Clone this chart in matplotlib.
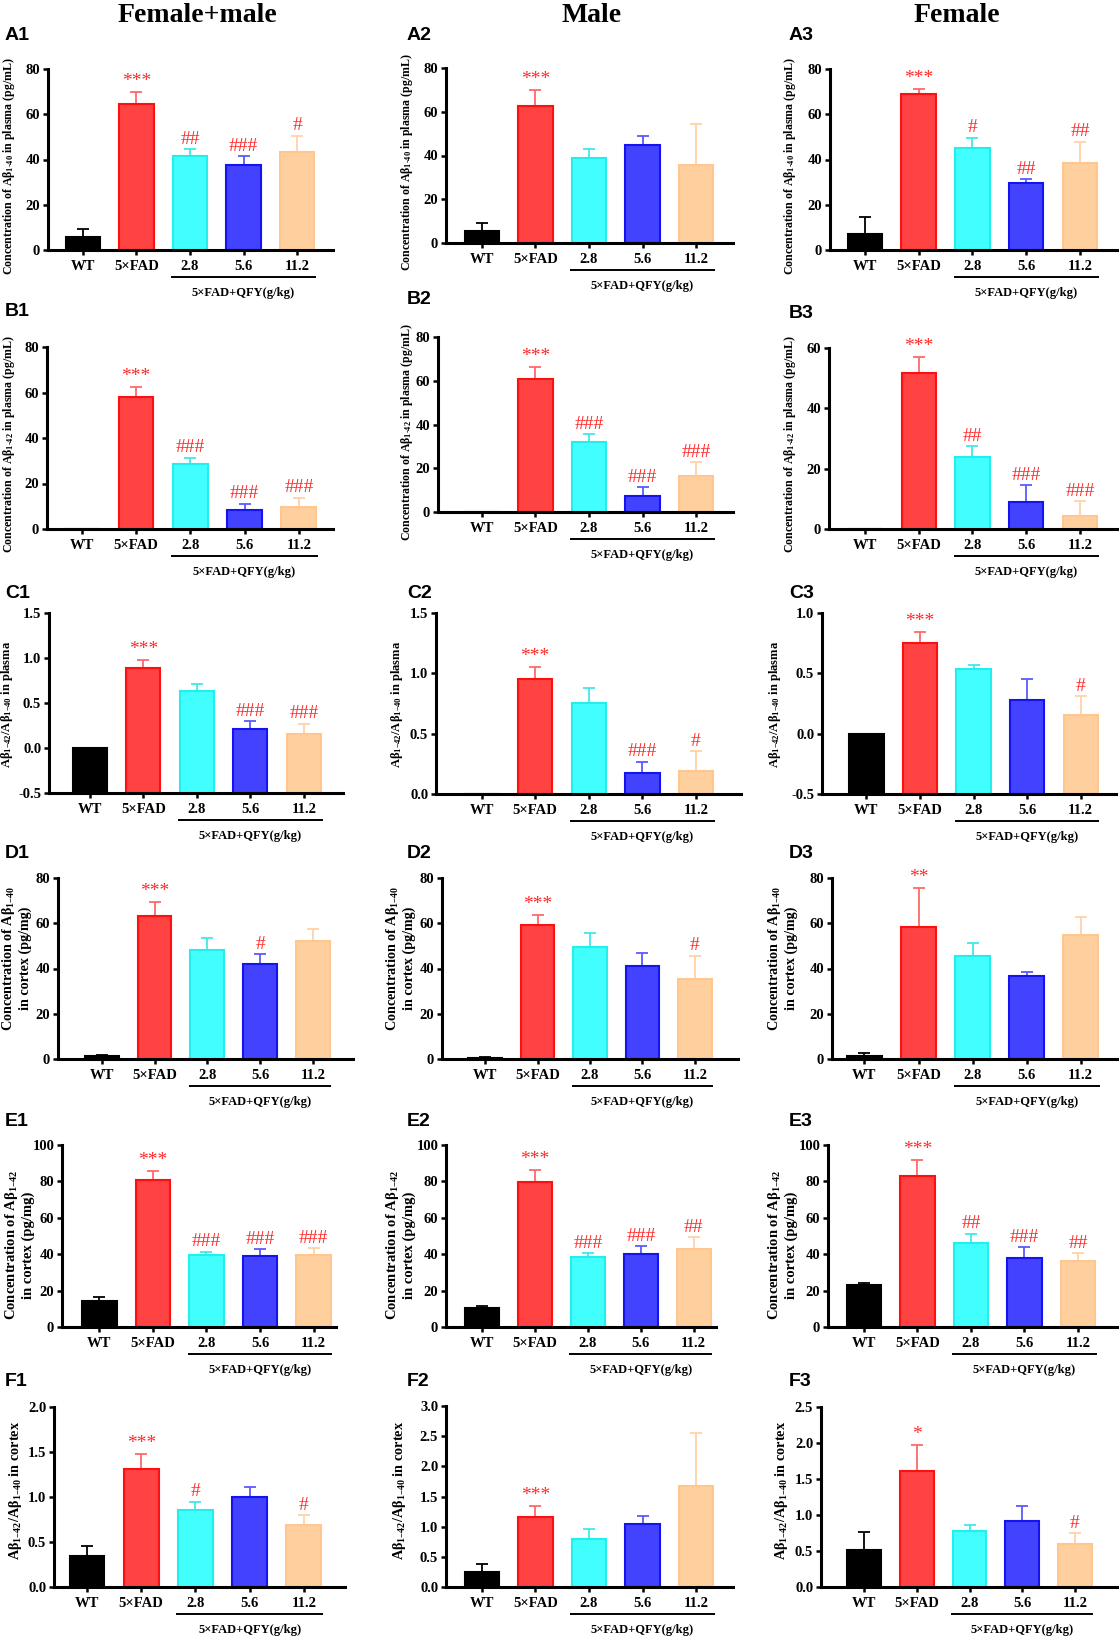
import matplotlib
matplotlib.use("Agg")
import matplotlib.pyplot as plt
from matplotlib.transforms import offset_copy, blended_transform_factory

plt.rcParams['font.family'] = ['Liberation Serif', 'DejaVu Serif']
plt.rcParams['font.weight'] = 'bold'
plt.rcParams['mathtext.default'] = 'regular'
plt.rcParams['axes.linewidth'] = 2.2

W, H = 1119, 1637

groups = ['WT', '5×FAD', '2.8', '5.6', '11.2']
group_label = '5×FAD+QFY(g/kg)'
col_titles = ['Female+male', 'Male', 'Female']

# ---- data: mean, SEM (upper), significance ----
A1_mean = [5.7, 64.5, 41.4, 37.7, 43.4]
A1_sem = [3.6, 5.3, 3.1, 3.8, 7.1]
A1_sig = ['', '***', '##', '###', '#']
A2_mean = [5.3, 62.7, 39.0, 44.6, 35.7]
A2_sem = [3.8, 7.4, 3.8, 4.1, 18.5]
A2_sig = ['', '***', '', '', '']
A3_mean = [7.1, 69.1, 45.2, 29.5, 38.6]
A3_sem = [7.6, 1.9, 4.4, 1.7, 9.3]
A3_sig = ['', '***', '#', '##', '##']

B1_mean = [0.0, 58.2, 28.5, 8.2, 9.7]
B1_sem = [0.0, 4.3, 2.8, 3.0, 4.0]
B1_sig = ['', '***', '###', '###', '###']
B2_mean = [0.0, 61.0, 32.2, 7.3, 16.3]
B2_sem = [0.0, 5.1, 3.5, 4.1, 6.4]
B2_sig = ['', '***', '###', '###', '###']
B3_mean = [0.0, 51.7, 23.9, 8.95, 4.3]
B3_sem = [0.0, 5.2, 3.6, 5.5, 5.0]
B3_sig = ['', '***', '##', '###', '###']

C1_mean = [0.0, 0.89, 0.63, 0.21, 0.16]
C1_sem = [0.0, 0.09, 0.085, 0.09, 0.11]
C1_sig = ['', '***', '', '###', '###']
C2_mean = [0.0, 0.95, 0.751, 0.171, 0.193]
C2_sem = [0.0, 0.105, 0.13, 0.097, 0.161]
C2_sig = ['', '***', '', '###', '#']
C3_mean = [0.0, 0.755, 0.533, 0.283, 0.156]
C3_sem = [0.0, 0.089, 0.036, 0.17, 0.155]
C3_sig = ['', '***', '', '', '#']

D1_mean = [1.2, 63.3, 48.0, 42.1, 52.3]
D1_sem = [0.4, 6.1, 5.3, 4.2, 5.1]
D1_sig = ['', '***', '', '#', '']
D2_mean = [0.6, 59.4, 49.4, 41.0, 35.3]
D2_sem = [0.4, 4.1, 6.5, 5.9, 10.3]
D2_sig = ['', '***', '', '', '#']
D3_mean = [1.3, 58.4, 45.6, 36.6, 55.0]
D3_sem = [1.2, 17.2, 5.6, 1.9, 7.8]
D3_sig = ['', '**', '', '', '']

E1_mean = [14.3, 80.7, 39.4, 39.0, 39.4]
E1_sem = [2.0, 5.2, 1.9, 3.6, 3.9]
E1_sig = ['', '***', '###', '###', '###']
E2_mean = [10.6, 79.4, 38.3, 40.2, 42.9]
E2_sem = [1.1, 6.8, 2.4, 4.2, 6.6]
E2_sig = ['', '***', '###', '###', '##']
E3_mean = [22.9, 83.1, 45.9, 38.0, 36.0]
E3_sem = [1.3, 8.6, 5.3, 6.0, 4.4]
E3_sig = ['', '***', '##', '###', '##']

F1_mean = [0.34, 1.31, 0.856, 0.996, 0.694]
F1_sem = [0.12, 0.17, 0.094, 0.111, 0.106]
F1_sig = ['', '***', '#', '', '#']
F2_mean = [0.25, 1.16, 0.80, 1.044, 1.68]
F2_sem = [0.126, 0.18, 0.156, 0.133, 0.88]
F2_sig = ['', '***', '', '', '']
F3_mean = [0.515, 1.61, 0.777, 0.919, 0.602]
F3_sem = [0.248, 0.36, 0.078, 0.207, 0.147]
F3_sig = ['', '*', '', '', '#']

yl_A = 'Concentration of A$\\beta_{1\u201040}$ in plasma (pg/mL)'
yl_B = 'Concentration of A$\\beta_{1\u201042}$ in plasma (pg/mL)'
yl_C = 'A$\\beta_{1\u201342}$/A$\\beta_{1\u201340}$ in plasma'
yl_D = 'Concentration of A$\\beta_{1\u201340}$\nin cortex (pg/mg)'
yl_E = 'Concentration of A$\\beta_{1\u201342}$\nin cortex (pg/mg)'
yl_F = 'A$\\beta_{1\u201342}$/A$\\beta_{1\u201340}$ in cortex'

ticks_80 = [0, 20, 40, 60, 80]
ticks_60 = [0, 20, 40, 60]
ticks_100 = [0, 20, 40, 60, 80, 100]
ticks_C1 = [-0.5, 0.0, 0.5, 1.0, 1.5]
ticks_C2 = [0.0, 0.5, 1.0, 1.5]
ticks_C3 = [-0.5, 0.0, 0.5, 1.0]
ticks_F1 = [0.0, 0.5, 1.0, 1.5, 2.0]
ticks_F2 = [0.0, 0.5, 1.0, 1.5, 2.0, 2.5, 3.0]
ticks_F3 = [0.0, 0.5, 1.0, 1.5, 2.0, 2.5]

# ---- style ----
fills = ['#000000', '#FF4242', '#42FFFF', '#4242FF', '#FFD09E']
edges = ['#000000', '#FF1010', '#22EEEE', '#1414F0', '#FFC690']
errc = ['#000000', '#FF6A6A', '#40E8E8', '#5A5AFF', '#FFD2A6']
sig_color = '#FF2A2A'

# panel: name, mean, sem, sig, ylabel, ticks, fmt, rect(l,r,t,b px), xlim, label pos, ylabel pos, ylabel size
panels = [
    ('A1', A1_mean, A1_sem, A1_sig, yl_A, ticks_80, '%d', (48, 333, 69, 250), (-0.65, 4.67), (5, 36), (9, 166), 8.6),
    ('A2', A2_mean, A2_sem, A2_sig, yl_A, ticks_80, '%d', (446, 733, 68, 243), (-0.67, 4.69), (407, 35), (407, 162), 8.6),
    ('A3', A3_mean, A3_sem, A3_sig, yl_A, ticks_80, '%d', (830, 1117, 69, 250), (-0.65, 4.69), (789, 35), (790, 166), 8.6),
    ('B1', B1_mean, B1_sem, B1_sig, yl_B, ticks_80, '%d', (47, 333, 347, 529), (-0.64, 4.63), (5, 312), (9, 444), 8.6),
    ('B2', B2_mean, B2_sem, B2_sig, yl_B, ticks_80, '%d', (438, 733, 337, 512), (-0.82, 4.69), (407, 300), (407, 432), 8.6),
    ('B3', B3_mean, B3_sem, B3_sig, yl_B, ticks_60, '%d', (829, 1117, 348, 529), (-0.67, 4.69), (789, 313), (790, 444), 8.6),
    ('C1', C1_mean, C1_sem, C1_sig, yl_C, ticks_C1, '%.1f', (49, 343, 613, 793), (-0.76, 4.73), (5, 593), (7, 704), 9.0),
    ('C2', C2_mean, C2_sem, C2_sig, yl_C, ticks_C2, '%.1f', (436, 741, 613, 794), (-0.85, 4.84), (407, 593), (397, 704), 9.0),
    ('C3', C3_mean, C3_sem, C3_sig, yl_C, ticks_C3, '%.1f', (822, 1116, 613, 794), (-0.83, 4.66), (789, 593), (775, 704), 9.0),
    ('D1', D1_mean, D1_sem, D1_sig, yl_D, ticks_80, '%d', (58, 353, 878, 1059), (-0.83, 4.76), (5, 853), (16, 958), 10.2),
    ('D2', D2_mean, D2_sem, D2_sig, yl_D, ticks_80, '%d', (442, 738, 878, 1059), (-0.82, 4.82), (407, 853), (400, 958), 10.2),
    ('D3', D3_mean, D3_sem, D3_sig, yl_D, ticks_80, '%d', (832, 1117, 878, 1059), (-0.6, 4.67), (789, 853), (782, 958), 10.2),
    ('E1', E1_mean, E1_sem, E1_sig, yl_E, ticks_100, '%d', (62, 336, 1145, 1327), (-0.7, 4.42), (5, 1121), (19, 1245), 10.5),
    ('E2', E2_mean, E2_sem, E2_sig, yl_E, ticks_100, '%d', (446, 716, 1145, 1327), (-0.68, 4.42), (407, 1121), (400, 1245), 10.5),
    ('E3', E3_mean, E3_sem, E3_sig, yl_E, ticks_100, '%d', (828, 1117, 1145, 1327), (-0.67, 4.73), (789, 1121), (782, 1245), 10.5),
    ('F1', F1_mean, F1_sem, F1_sig, yl_F, ticks_F1, '%.1f', (54, 345, 1407, 1587), (-0.61, 4.76), (5, 1382), (16, 1490), 10.3),
    ('F2', F2_mean, F2_sem, F2_sig, yl_F, ticks_F2, '%.1f', (446, 733, 1406, 1587), (-0.67, 4.69), (407, 1382), (400, 1490), 10.3),
    ('F3', F3_mean, F3_sem, F3_sig, yl_F, ticks_F3, '%.1f', (821, 1117, 1407, 1587), (-0.82, 4.8), (789, 1382), (782, 1490), 10.3),
]

fig = plt.figure(figsize=(W / 100, H / 100), dpi=100)

for name, mean, sem, sig, ylab, ticks, fmt, rect, xlim, lpos, ypos, ylfs in panels:
    l, r, t, b = rect
    ax = fig.add_axes([l / W, 1 - b / H, (r - l) / W, (b - t) / H])
    ymin, ymax = ticks[0], ticks[-1]
    x = list(range(len(groups)))
    bottom = ymin if ymin < 0 else 0
    heights = [m - bottom for m in mean]
    ax.bar(x, heights, bottom=bottom, width=0.64, color=fills, edgecolor=edges,
           linewidth=1.5, zorder=2)
    for i in range(len(groups)):
        if sem[i] > 0:
            ax.errorbar(x[i], mean[i], yerr=[[0], [sem[i]]], fmt='none',
                        ecolor=errc[i], elinewidth=1.3, capsize=4.5, capthick=1.3,
                        zorder=1)
        if sig[i]:
            off = 1.5 if '*' in sig[i] else 1.0
            ax.annotate(sig[i], xy=(x[i], mean[i] + sem[i]), xytext=(0, off),
                        textcoords='offset points', ha='center', va='bottom',
                        color=sig_color, fontsize=14, fontweight='normal',
                        family='Liberation Serif', annotation_clip=False)
    ax.set_xlim(*xlim)
    ax.set_ylim(ymin, ymax)
    ax.set_yticks(ticks)
    ax.set_yticklabels([fmt % v for v in ticks])
    ax.set_xticks(x)
    ax.set_xticklabels(groups)
    ax.spines['top'].set_visible(False)
    ax.spines['right'].set_visible(False)
    ax.tick_params(axis='both', width=1.8, length=3.6, labelsize=10.5, pad=2.5)
    ax.tick_params(axis='y', pad=2.0)
    ax.tick_params(axis='x', pad=3.5)
    for tl in ax.get_xticklabels() + ax.get_yticklabels():
        tl.set_fontweight('bold')

    trans = blended_transform_factory(ax.transData, ax.transAxes)
    line_tr = offset_copy(trans, fig=fig, y=-27, units='dots')
    ax.plot([1.65, 4.35], [0, 0], transform=line_tr, color='black', lw=1.4,
            clip_on=False, solid_capstyle='butt')
    text_tr = offset_copy(trans, fig=fig, y=-43, units='dots')
    ax.text(3, 0, group_label, transform=text_tr, ha='center', va='center',
            fontsize=9, fontweight='bold')

    fig.text(lpos[0] / W, 1 - lpos[1] / H, name, ha='left', va='center',
             fontsize=14, fontweight='bold', family='Liberation Sans')
    fig.text(ypos[0] / W, 1 - ypos[1] / H, ylab, rotation=90, ha='center',
             va='center', fontsize=ylfs, fontweight='bold', linespacing=1.1,
             multialignment='center')

for cx, title in zip([197, 592, 957], col_titles):
    fig.text(cx / W, 1 - 15 / H, title, ha='center', va='center',
             fontsize=20, fontweight='bold')

fig.savefig('out.png', dpi=100)
